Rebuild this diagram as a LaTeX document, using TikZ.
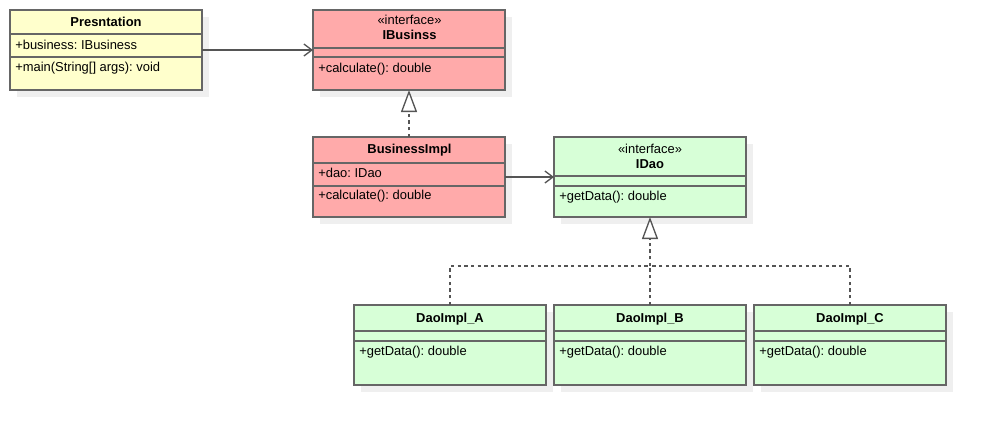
\documentclass[tikz,border=0pt]{standalone}
\usepackage{fontspec}
\setmainfont{Liberation Sans}
\usetikzlibrary{arrows.meta}
\frenchspacing
\definecolor{edge}{HTML}{666666}
\definecolor{wire}{HTML}{555555}
\definecolor{yel}{HTML}{FFFFCC}
\definecolor{rose}{HTML}{FFAAAA}
\definecolor{mint}{HTML}{D7FFD7}
\definecolor{dropgray}{HTML}{EFEFEF}

% one UML class: name, left, top, fill, first divider, second divider (px below top)
\newcommand\umlcls[6]{%
  \fill[dropgray] ({#2+7},{#3+7}) rectangle ++(192,80);
  \node[clsbox, fill=#4] (#1) at (#2,#3) {};
  \draw[divider] ([yshift=-#5*0.75pt]#1.north west) -- ([yshift=-#5*0.75pt]#1.north east);
  \draw[divider] ([yshift=-#6*0.75pt]#1.north west) -- ([yshift=-#6*0.75pt]#1.north east);
}

\begin{document}
\begin{tikzpicture}[x=0.75pt,y=-0.75pt,
  font=\fontsize{9.7}{11}\selectfont,
  clsbox/.style={draw=edge, line width=1.5pt, anchor=north west, inner sep=0pt,
    outer sep=0pt, minimum width=144pt, minimum height=60pt},
  divider/.style={draw=edge, line width=1.5pt},
  title/.style={font=\fontsize{9.7}{11}\selectfont\bfseries, inner sep=0pt},
  stereo/.style={inner sep=0pt},
  member/.style={anchor=west, inner sep=0pt},
  assoc/.style={draw=wire, line width=1pt, -{Straight Barb[length=6pt,width=9pt,line width=1pt]}},
  realize/.style={draw=wire, line width=1pt, dash pattern=on 2.5pt off 2.5pt},
  realtip/.style={-{Triangle[open,fill=white,length=16.5pt,width=12pt,line width=1pt]}}]
\useasboundingbox (0,0) rectangle (986,426);

% classes
\umlcls{pres}{10}{10}{yel}{24}{47}
\umlcls{ibus}{313}{10}{rose}{38}{47}
\umlcls{bimpl}{313}{137}{rose}{26}{49}
\umlcls{idao}{554}{137}{mint}{39}{49}
\umlcls{daoA}{354}{305}{mint}{26}{36}
\umlcls{daoB}{554}{305}{mint}{26}{36}
\umlcls{daoC}{754}{305}{mint}{26}{36}

% texts
\node[title] (presT) at (106,22) {Presntation};
\node[member] (presA) at (15,45) {+business: IBusiness};
\node[member] (presM) at (15,68) {+main(String[] args): void};

\node[stereo] (ibusS) at (409.5,20) {«interface»};
\node[title] (ibusT) at (409.5,35) {IBusinss};
\node[member] (ibusM) at (318,69) {+calculate(): double};

\node[title] (bimplT) at (409.5,150) {BusinessImpl};
\node[member] (bimplA) at (318,173) {+dao: IDao};
\node[member] (bimplM) at (318,196) {+calculate(): double};

\node[stereo] (idaoS) at (650,149) {«interface»};
\node[title] (idaoT) at (650,164) {IDao};
\node[member] (idaoM) at (559,197) {+getData(): double};

\node[title] (daoAT) at (450,319) {DaoImpl\_A};
\node[member] (daoAM) at (359,352) {+getData(): double};
\node[title] (daoBT) at (650,319) {DaoImpl\_B};
\node[member] (daoBM) at (559,352) {+getData(): double};
\node[title] (daoCT) at (850,319) {DaoImpl\_C};
\node[member] (daoCM) at (759,352) {+getData(): double};

% associations
\draw[assoc] (pres) -- (ibus);
\draw[assoc] (bimpl) -- (idao);

% realizations
\draw[realize, realtip] (bimpl.north) -- (ibus.south);
\coordinate (join) at (650,266);
\draw[realize] (daoA.north) |- (join);
\draw[realize] (daoC.north) |- (join);
\draw[realize] (daoB.north) -- (join);
\draw[realize, realtip] (join) -- (idao.south);
\end{tikzpicture}
\end{document}
